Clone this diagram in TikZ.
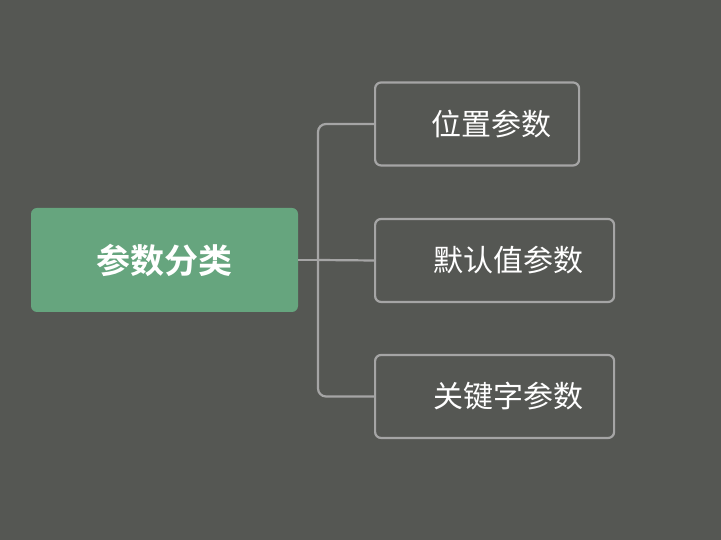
\documentclass[tikz,border=0pt]{standalone}
\usepackage{fontspec}
\newfontfamily\cjk{Noto Sans CJK SC}
\newfontfamily\cjkb{Noto Sans CJK SC Bold}
\definecolor{bg}{RGB}{85,87,83}
\definecolor{gr}{RGB}{102,165,126}
\definecolor{ln}{RGB}{165,165,165}
\begin{document}
\begin{tikzpicture}[x=1pt,y=1pt,
 child/.style={draw=ln,line width=2.2pt,fill=bg,rounded corners=6pt,text=white,font=\cjk\fontsize{30}{36}\selectfont,anchor=west,inner sep=0pt},
 conn/.style={draw=ln,line width=2.2pt,rounded corners=8pt}]
\fill[bg] (0,0) rectangle (721,540);
\useasboundingbox (0,0) rectangle (721,540);
\node[fill=gr,rounded corners=6pt,minimum width=267pt,minimum height=104pt,text=white,font=\cjkb\fontsize{34}{40}\selectfont] (root) at (164.5,280) {参数分类};
\node[child,minimum width=204pt,minimum height=83pt] (a) at (374,416) {\hspace*{28pt}位置参数};
\node[child,minimum width=239pt,minimum height=83pt] (b) at (374,279.5) {\hspace*{28pt}默认值参数};
\node[child,minimum width=239pt,minimum height=83pt] (c) at (374,143.5) {\hspace*{28pt}关键字参数};
\draw[conn] (root.east) -- (318,280);
\draw[conn] (a.west) -| (318,280) |- (c.west);
\draw[conn] (318,280) -- (b.west);
\end{tikzpicture}
\end{document}
